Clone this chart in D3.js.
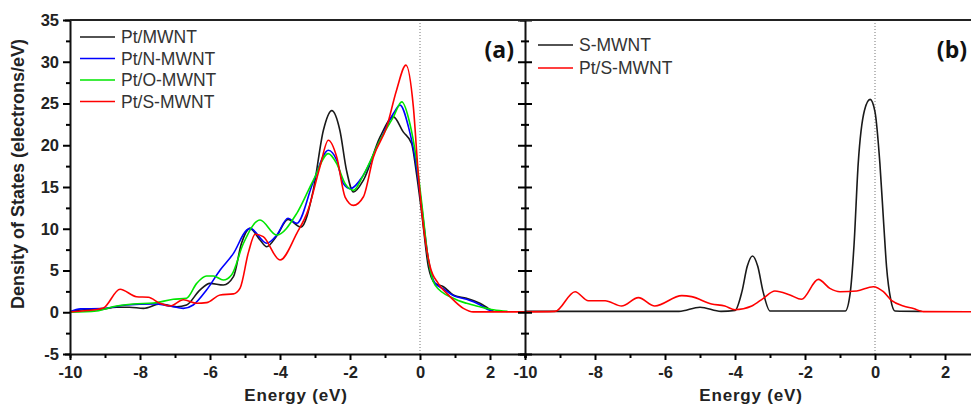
<!DOCTYPE html>
<html>
<head>
<meta charset="utf-8">
<script src="https://cdn.jsdelivr.net/npm/d3@7"></script>
<style>
  body { margin: 0; background: #fff; }
  text { font-family: Arial, "Liberation Sans", sans-serif; }
</style>
</head>
<body>
<div id="content"></div>
<script>
// DOS curves, [energy (eV), states (electrons/eV)]
var ptMwnt = [[-10,0.05],[-9.6,0.3],[-9.2,0.3],[-8.67,0.6],[-8.3,0.6],[-7.9,0.47],[-7.43,0.99],[-6.95,0.66],[-6.67,0.87],
  [-6.29,2.66],[-6.0,3.46],[-5.62,3.26],[-5.33,4.26],[-5.1,8.26],[-4.86,10.05],[-4.57,8.65],[-4.38,7.85],[-4.1,9.1],
  [-3.77,11.1],[-3.4,10.2],[-3.05,14.6],[-2.76,21.8],[-2.52,24.15],[-2.29,21.8],[-2.1,17.0],[-1.9,14.4],[-1.62,15.8],
  [-1.14,21.0],[-0.76,23.4],[-0.48,21.6],[-0.24,20.2],[-0.1,16.6],[0.05,11.85],[0.24,5.45],[0.43,3.46],[0.67,3.06],
  [0.95,2.07],[1.33,1.67],[1.71,1.07],[1.95,0.47],[2.1,0.1]];

var ptNMwnt = [[-10,0.05],[-9.7,0.4],[-9.1,0.45],[-8.38,0.87],[-7.62,1.0],[-7.14,0.75],[-6.76,0.47],[-6.48,0.87],
  [-6.1,2.66],[-5.71,5.06],[-5.33,7.05],[-4.95,9.85],[-4.85,10.05],[-4.38,8.26],[-4.1,9.2],[-3.77,11.25],[-3.52,10.65],
  [-3.05,15.6],[-2.62,19.4],[-2.38,18.2],[-2.19,15.4],[-2.0,14.8],[-1.62,16.4],[-1.14,20.6],[-0.76,23.8],[-0.57,24.8],
  [-0.33,22.2],[-0.1,17.4],[0.05,12.6],[0.24,6.26],[0.43,3.46],[0.67,2.8],[0.95,2.0],[1.33,1.55],[1.71,0.9],
  [1.95,0.3],[2.1,0.1]];

var ptOMwnt = [[-10,0],[-9.24,0.15],[-8.67,0.75],[-8.19,0.99],[-7.62,1.1],[-7.05,1.55],[-6.67,1.67],[-6.38,3.46],
  [-6.1,4.34],[-5.9,4.34],[-5.62,3.86],[-5.38,4.5],[-5.05,8.2],[-4.57,11.05],[-4.1,9.25],[-3.52,11.85],[-3.05,15.8],
  [-2.62,19.0],[-2.38,17.8],[-2.14,15.4],[-1.9,14.6],[-1.62,16.4],[-1.14,20.6],[-0.76,23.4],[-0.52,25.2],[-0.29,22.6],
  [-0.1,18.2],[0.05,13.05],[0.24,6.26],[0.43,3.25],[0.95,1.67],[1.33,1.07],[1.71,0.66],[2.1,0.3],[2.5,0.1]];

var ptSMwnt = [[-10,0.05],[-9.5,0.2],[-9.05,0.5],[-8.57,2.75],[-8.1,1.86],[-7.76,1.79],[-7.43,1.07],[-7.14,0.75],
  [-6.76,1.5],[-6.38,1.07],[-6.1,1.15],[-5.71,2.07],[-5.33,2.2],[-5.14,2.9],[-4.9,7.2],[-4.71,9.35],[-4.48,9.05],
  [-4.0,6.26],[-3.52,9.45],[-3.2,12.2],[-2.86,17.4],[-2.62,20.6],[-2.38,18.6],[-2.14,13.8],[-1.9,12.8],[-1.62,13.8],
  [-1.33,18.6],[-0.95,22.2],[-0.67,26.6],[-0.4,29.6],[-0.19,24.6],[-0.05,16.6],[0.1,10.25],[0.29,5.45],[0.52,3.46],
  [0.86,1.86],[1.24,0.47],[1.52,0.05],[3,0.05]];

var sMwnt = [[-10,0.1],[-5.6,0.1],[-5.0,0.6],[-4.4,0.1],[-4.0,0.2],[-3.8,2.5],[-3.65,5.5],[-3.5,6.74],[-3.35,5.5],
  [-3.2,2.5],[-3.0,0.15],[-0.85,0.15],[-0.71,2.27],[-0.6,8],[-0.48,17.8],[-0.3,24.2],[-0.14,25.5],[0,24],
  [0.14,17.8],[0.25,10.5],[0.33,5.45],[0.45,1.5],[0.57,0.15],[1.33,0.1]];

var ptSMwntB = [[-10,0.05],[-9.14,0.1],[-8.57,2.46],[-8.19,1.38],[-7.71,1.38],[-7.24,0.75],[-6.76,1.75],[-6.29,0.75],
  [-5.52,1.99],[-5.24,1.87],[-4.67,0.99],[-4.29,0.75],[-4.0,0.3],[-3.52,0.75],[-3.19,1.67],[-2.86,2.55],[-2.43,2.07],
  [-2.1,1.55],[-1.62,3.94],[-1.29,2.86],[-1.0,2.46],[-0.52,2.55],[-0.05,3.06],[0.24,2.46],[0.48,1.38],[0.81,0.75],
  [1.1,0.45],[1.38,0.07],[3,0.05]];

var namesA = ["Pt/MWNT", "Pt/N-MWNT", "Pt/O-MWNT", "Pt/S-MWNT"];
var namesB = ["S-MWNT", "Pt/S-MWNT"];
var xTicks = [-10, -8, -6, -4, -2, 0, 2];
var yTicks = [-5, 0, 5, 10, 15, 20, 25, 30, 35];

var w = 971,
    h = 405,
    yTop = 20,
    yBottom = 354;

var svg = d3.select("#content")
    .append("svg")
    .attr("width", w)
    .attr("height", h);

var y = d3.scaleLinear().domain([-5, 35]).range([yBottom, yTop]);

var panels = [
  { x0: 70, x1: 525, series: [ptMwnt, ptNMwnt, ptOMwnt, ptSMwnt], colors: ["#1a1a1a", "#0000ff", "#00e600", "#ff0000"],
    names: namesA, label: "(a)", labelX: 514, legendX: 80, legendY: 37, legendStep: 21.5, ylabels: true },
  { x0: 525, x1: 980, series: [sMwnt, ptSMwntB], colors: ["#1a1a1a", "#ff0000"],
    names: namesB, label: "(b)", labelX: 967, legendX: 538, legendY: 45, legendStep: 23, ylabels: false }
];

panels.forEach(drawPanel);

// frame top line across both panels
svg.append("line")
    .attr("x1", 70).attr("x2", w)
    .attr("y1", yTop).attr("y2", yTop)
    .attr("stroke", "#222").attr("stroke-width", 2);

// y axis title
svg.append("text")
    .attr("transform", "translate(24,174) rotate(-90)")
    .attr("text-anchor", "middle")
    .style("font-size", "18px")
    .style("font-weight", "bold")
    .attr("fill", "#222")
    .text("Density of States (electrons/eV)");

function drawPanel(p) {
    var x = d3.scaleLinear().domain([-10, 3]).range([p.x0, p.x1]);
    var g = svg.append("g");

    // zero energy marker
    g.append("line")
        .attr("x1", x(0)).attr("x2", x(0))
        .attr("y1", yTop).attr("y2", yBottom)
        .attr("stroke", "#777").attr("stroke-width", 1)
        .attr("stroke-dasharray", "1,2");

    var line = d3.line()
        .x(function(d) { return x(d[0]); })
        .y(function(d) { return y(d[1]); })
        .curve(d3.curveMonotoneX);

    g.selectAll("path.dos")
        .data(p.series)
        .enter()
        .append("path")
        .attr("class", "dos")
        .attr("d", line)
        .attr("fill", "none")
        .attr("stroke", function(d, i) { return p.colors[i]; })
        .attr("stroke-width", 1.6);

    // bottom axis
    var xAxis = d3.axisBottom(x)
        .tickValues(d3.range(-10, 4, 1))
        .tickSize(4)
        .tickFormat(function(d) { return xTicks.indexOf(d) >= 0 ? d : ""; });
    var gx = g.append("g")
        .attr("transform", "translate(0," + yBottom + ")")
        .call(xAxis);
    gx.select(".domain").attr("stroke-width", 2).attr("stroke", "#111");
    gx.selectAll(".tick line")
        .attr("y2", function(d) { return d % 2 === 0 ? 6 : 4; })
        .attr("stroke-width", 2);
    gx.selectAll(".tick text")
        .attr("dy", "1.05em")
        .style("font-size", "16.5px")
        .style("font-weight", "bold")
        .attr("fill", "#222")
        .style("font-family", "Arial, 'Liberation Sans', sans-serif");

    // left axis
    var yAxis = d3.axisLeft(y)
        .tickValues(d3.range(-5, 35.1, 2.5))
        .tickSize(5)
        .tickFormat(function(d) { return p.ylabels && yTicks.indexOf(d) >= 0 ? d : ""; });
    var gy = g.append("g")
        .attr("transform", "translate(" + p.x0 + ",0)")
        .call(yAxis);
    gy.select(".domain").attr("stroke-width", 2).attr("stroke", "#111");
    gy.selectAll(".tick line")
        .attr("x1", p.ylabels ? 0 : function(d) { return d % 5 === 0 ? 7 : 4; })
        .attr("x2", function(d) { return d % 5 === 0 ? -7 : -4; })
        .attr("stroke-width", 2);
    gy.selectAll(".tick text")
        .attr("x", -11)
        .style("font-size", "16.5px")
        .style("font-weight", "bold")
        .attr("fill", "#222")
        .style("font-family", "Arial, 'Liberation Sans', sans-serif");

    // x axis title
    g.append("text")
        .attr("x", p.x0 + 226)
        .attr("y", 401)
        .attr("text-anchor", "middle")
        .style("font-size", "17px")
        .style("font-weight", "bold")
        .style("letter-spacing", "0.8px")
        .attr("fill", "#222")
        .text("Energy (eV)");

    // panel tag
    g.append("text")
        .attr("x", p.labelX)
        .attr("y", 58)
        .attr("text-anchor", "end")
        .style("font-size", "23px")
        .style("font-weight", "bold")
        .style("font-family", "'Open Sans', 'DejaVu Sans', sans-serif")
        .attr("fill", "#111")
        .text(p.label);

    // legend
    var lg = g.selectAll("g.legend")
        .data(p.names)
        .enter()
        .append("g")
        .attr("class", "legend")
        .attr("transform", function(d, i) { return "translate(" + p.legendX + "," + (p.legendY + i * p.legendStep) + ")"; });
    lg.append("line")
        .attr("x1", 0).attr("x2", 35)
        .attr("stroke", function(d, i) { return p.colors[i]; })
        .attr("stroke-width", 1.6);
    lg.append("text")
        .attr("x", 41)
        .attr("dy", "0.36em")
        .style("font-size", "17.5px")
        .attr("fill", "#333")
        .text(function(d) { return d; });
}
</script>
</body>
</html>
